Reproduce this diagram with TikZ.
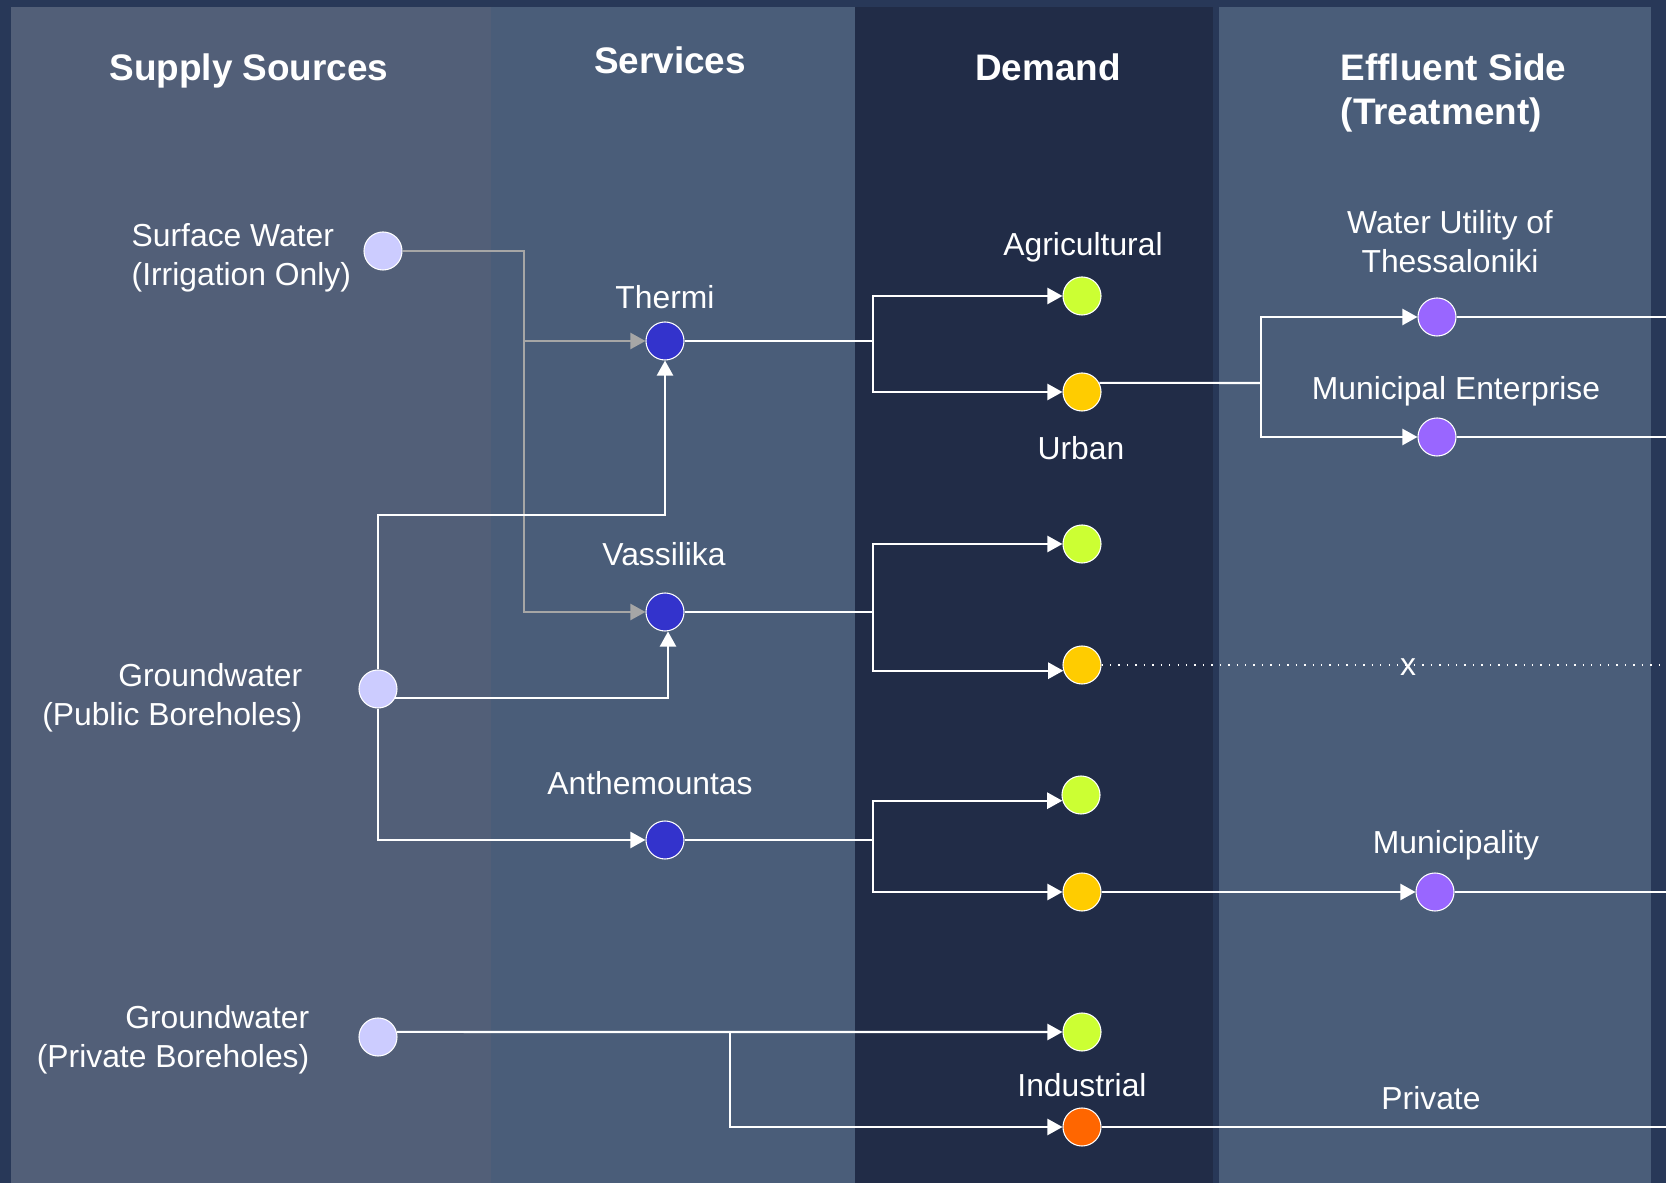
\documentclass[tikz,border=0pt]{standalone}
\usepackage{fontspec}
\setmainfont{Liberation Sans}
\usetikzlibrary{arrows.meta}

\definecolor{rimblue}{HTML}{283858}
\definecolor{supplybg}{HTML}{525F78}
\definecolor{servicebg}{HTML}{4A5D79}
\definecolor{demandbg}{HTML}{212C47}
\definecolor{srcfill}{HTML}{CCCCFF}
\definecolor{servfill}{HTML}{3333CC}
\definecolor{agrifill}{HTML}{CCFF33}
\definecolor{urbfill}{HTML}{FFCC00}
\definecolor{indfill}{HTML}{FF6600}
\definecolor{efffill}{HTML}{9966FF}
\definecolor{feedgray}{HTML}{A6A6A6}

\tikzset{
	dot/.style={shape=circle, draw=white, line width=0.3pt, minimum size=0.38cm, inner sep=0pt},
	source/.style={dot, fill=srcfill},
	service/.style={dot, fill=servfill},
	agri/.style={dot, fill=agrifill},
	urban/.style={dot, fill=urbfill},
	industry/.style={dot, fill=indfill},
	effluent/.style={dot, fill=efffill},
	head/.style={text=white, inner sep=0pt, font=\fontsize{10.5}{12.4}\selectfont\bfseries},
	tag/.style={text=white, inner sep=0pt, font=\fontsize{9.05}{11.1}\selectfont},
	pipe/.style={white, line width=0.6pt},
	flow/.style={pipe, -{Triangle[length=4.3pt, width=4.6pt]}},
	grayflow/.style={flow, feedgray}
}

\begin{document}
\begin{tikzpicture}[x=0.01cm, y=-0.01cm]

	\useasboundingbox (0,0) rectangle (1666,1183);
	\fill[rimblue] (0,0) rectangle (1666,1183);
	\fill[supplybg] (11,7) rectangle (491,1183);
	\fill[servicebg] (491,7) rectangle (855,1183);
	\fill[demandbg] (855,7) rectangle (1213,1183);
	\fill[servicebg] (1219,7) rectangle (1651,1183);

	\node[head] (hsupply) at (249,71) {Supply Sources};
	\node[head] (hservice) at (670,60) {Services};
	\node[head] (hdemand) at (1048,67) {Demand};
	\node[head, anchor=west, align=left] (heffluent) at (1340,93) {Effluent Side\\(Treatment)};


	\node[source] (sw) at (383,251) {};
	\node[source] (gwpub) at (378,689) {};
	\node[source] (gwpriv) at (378,1037) {};

	\node[service] (thermi) at (665,341) {};
	\node[service] (vass) at (665,612) {};
	\node[service] (anth) at (665,840) {};

	\node[agri] (agri1) at (1082,296) {};
	\node[urban] (urb1) at (1082,392) {};
	\node[agri] (agri2) at (1082,544) {};
	\node[urban] (urb2) at (1082,665) {};
	\node[agri] (agri3) at (1081,795) {};
	\node[urban] (urb3) at (1082,892) {};
	\node[agri] (agri4) at (1082,1032) {};
	\node[industry] (ind) at (1082,1127) {};

	\node[effluent] (wu) at (1437,317) {};
	\node[effluent] (me) at (1437,437) {};
	\node[effluent] (mun) at (1435,892) {};


	\node[tag, anchor=west, align=left] (tsw) at (131,258) {Surface Water\\(Irrigation Only)};
	\node[tag, anchor=east, align=right] (tgwpub) at (303,698) {Groundwater\\(Public Boreholes)};
	\node[tag, anchor=east, align=right] (tgwpriv) at (310,1040) {Groundwater\\(Private Boreholes)};

	\node[tag] (tthermi) at (665,297) {Thermi};
	\node[tag] (tvass) at (664,554) {Vassilika};
	\node[tag] (tanth) at (650,783) {Anthemountas};

	\node[tag] (tagri) at (1083,247) {Agricultural};
	\node[tag] (turban) at (1081,448) {Urban};
	\node[tag] (tind) at (1082,1085) {Industrial};

	\node[tag, align=center] (twu) at (1450,242) {Water Utility of\\Thessaloniki};
	\node[tag] (tme) at (1456,391) {Municipal Enterprise};
	\node[tag] (tmun) at (1456,845) {Municipality};
	\node[tag] (tpriv) at (1431,1098) {Private};
	\node[tag] (tcut) at (1408,667) {x};


	\coordinate (swbus) at (524,612);
	\coordinate (gwup) at (378,515);
	\coordinate (tj) at (873,341);
	\coordinate (vj) at (873,612);
	\coordinate (aj) at (873,840);
	\coordinate (uj) at (1261,383);
	\coordinate (pj) at (730,1032);
	\coordinate (rim) at (1666,0);

	\draw[grayflow] (sw) -| (swbus) -- (vass);
	\draw[grayflow] (swbus |- thermi) -- (thermi);

	\draw[flow] (gwpub) -- (gwup) -| (thermi);
	\draw[flow] (gwpub.-28) -| ([xshift=0.03cm]vass.south);
	\draw[flow] (gwpub) |- (anth);

	\draw[pipe] (thermi) -- (tj);
	\draw[flow] (tj) |- (agri1);
	\draw[flow] (tj) |- (urb1);

	\draw[pipe] (vass) -- (vj);
	\draw[flow] (vj) |- (agri2);
	\draw[flow] (vj) |- (urb2.197);

	\draw[pipe] (anth) -- (aj);
	\draw[flow] (aj) |- (agri3.197);
	\draw[flow] (aj) |- (urb3);

	\draw[flow] (gwpriv.15) -- (agri4);
	\draw[flow] (pj) |- (ind);

	\draw[pipe] (urb1.28) -- (uj);
	\draw[flow] (uj) |- (wu);
	\draw[flow] (uj) |- (me);
	\draw[pipe, line width=0.4pt, dotted] (urb2) -- (urb2 -| rim);
	\draw[flow] (urb3) -- (mun);

	\draw[pipe] (wu) -- (wu -| rim);
	\draw[pipe] (me) -- (me -| rim);
	\draw[pipe] (mun) -- (mun -| rim);
	\draw[pipe] (ind) -- (ind -| rim);

\end{tikzpicture}
\end{document}
